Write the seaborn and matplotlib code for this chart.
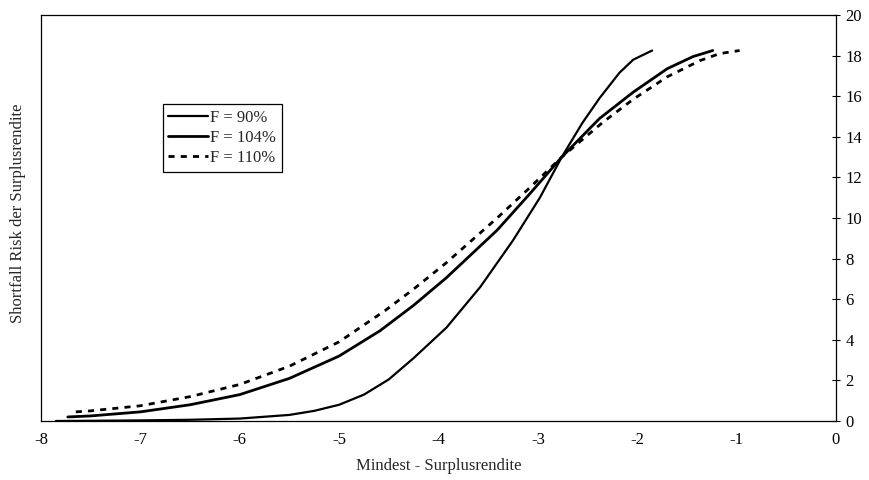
import pandas as pd
import matplotlib.pyplot as plt
import seaborn as sns

# =========================
# Daten
# =========================
x_90 = [-7.85, -7.5, -7.0, -6.5, -6.0, -5.5, -5.25, -5.0, -4.75, -4.5, -4.25,
        -3.92, -3.58, -3.25, -2.98, -2.76, -2.55, -2.38, -2.18, -2.04, -1.85]
y_90 = [0.0, 0.01, 0.03, 0.06, 0.12, 0.3, 0.5, 0.8, 1.3, 2.05, 3.1,
        4.6, 6.6, 8.9, 11.0, 13.0, 14.7, 15.9, 17.15, 17.8, 18.25]

x_104 = [-7.73, -7.5, -7.0, -6.5, -6.0, -5.5, -5.0, -4.59, -4.25, -3.92,
         -3.41, -3.08, -2.76, -2.38, -2.04, -1.7, -1.44, -1.24]
y_104 = [0.2, 0.25, 0.45, 0.8, 1.3, 2.1, 3.2, 4.44, 5.7, 7.06,
         9.4, 11.2, 13.0, 14.9, 16.2, 17.35, 17.95, 18.25]

x_110 = [-7.65, -7.5, -7.0, -6.5, -6.0, -5.5, -5.0, -4.54, -4.25, -3.92,
         -3.41, -3.08, -2.76, -2.35, -2.04, -1.7, -1.37, -1.17, -0.97]
y_110 = [0.45, 0.5, 0.75, 1.2, 1.8, 2.7, 3.9, 5.43, 6.5, 7.8,
         10.0, 11.5, 13.0, 14.7, 15.85, 16.95, 17.75, 18.1, 18.25]

labels = ['F = 90%', 'F = 104%', 'F = 110%']

df = pd.concat([
    pd.DataFrame({'x': x_90, 'y': y_90, 'F': labels[0]}),
    pd.DataFrame({'x': x_104, 'y': y_104, 'F': labels[1]}),
    pd.DataFrame({'x': x_110, 'y': y_110, 'F': labels[2]}),
])

# =========================
# Stil
# =========================
sns.set_style('white')
plt.rcParams['font.family'] = ['Liberation Serif', 'DejaVu Serif']
plt.rcParams['axes.unicode_minus'] = False

fig = plt.figure(figsize=(8.69, 4.8), dpi=100)
ax = fig.add_axes([41 / 869, 1 - 421 / 480, 795 / 869, 406 / 480])

stile = {labels[0]: dict(lw=1.6, ls='-'),
         labels[1]: dict(lw=2.0, ls='-'),
         labels[2]: dict(lw=2.0, ls=(0, (2.2, 2.2)))}

for f in labels:
    sub = df[df['F'] == f]
    sns.lineplot(data=sub, x='x', y='y', ax=ax, color='black',
                 linewidth=stile[f]['lw'], linestyle=stile[f]['ls'],
                 label=f, sort=False, estimator=None)

# =========================
# Achsen
# =========================
ax.set_xlim(-8, 0)
ax.set_ylim(0, 20)
ax.set_xticks(range(-8, 1))
ax.set_yticks(range(0, 21, 2))
ax.yaxis.tick_right()
ax.tick_params(axis='both', direction='inout', length=6, width=0.8,
               labelsize=12, colors='black')
ax.tick_params(axis='x', pad=5)
ax.tick_params(axis='y', pad=4)
for s in ax.spines.values():
    s.set_color('black')
    s.set_linewidth(0.9)

ax.set_xlabel('Mindest - Surplusrendite', fontsize=12, labelpad=7)
ax.set_ylabel('')
fig.text(18 / 869, 0.555, 'Shortfall Risk der Surplusrendite', rotation=90,
         ha='center', va='center', fontsize=12)

leg = ax.legend(loc='upper left', bbox_to_anchor=(0.153, 0.781),
                borderaxespad=0, fancybox=False, framealpha=1,
                edgecolor='black', fontsize=12, handlelength=2.4,
                handletextpad=0.1, borderpad=0.35, labelspacing=0.25)
leg.get_frame().set_linewidth(0.9)

plt.savefig('out.png', dpi=100)
